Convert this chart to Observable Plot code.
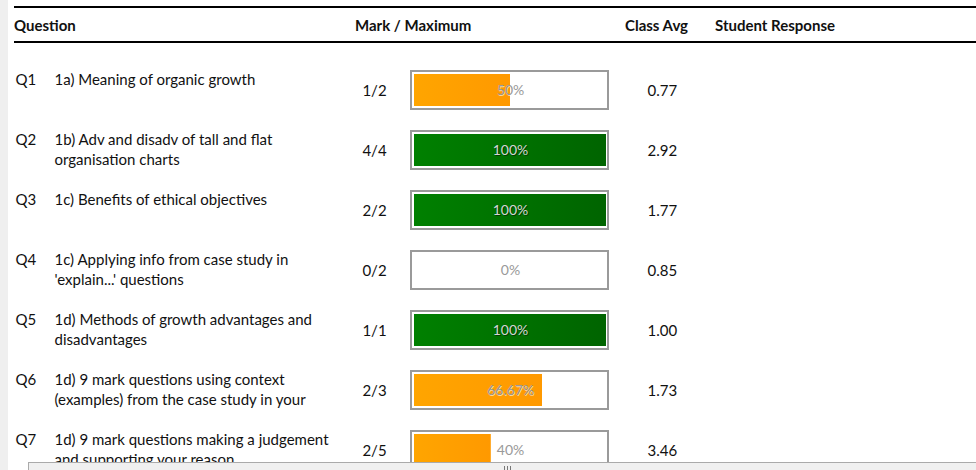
<!DOCTYPE html>
<html><head><meta charset="utf-8">
<script src="https://cdn.jsdelivr.net/npm/d3@7"></script>
<script src="https://cdn.jsdelivr.net/npm/@observablehq/plot@0.6"></script>
<style>
body{margin:0;background:#fff;font-family:Lato,"Open Sans",sans-serif;}
#wrap{position:relative;width:976px;height:470px;overflow:hidden;background:#fff;}
#strip{position:absolute;left:0;top:0;width:8px;height:470px;background:#efefef;z-index:5;}
#head{position:relative;height:43px;}
#head .rules{position:absolute;left:14px;right:0;top:6px;height:33px;border-top:2px solid #000;border-bottom:2px solid #000;}
#head span{position:absolute;top:16px;font-weight:bold;font-size:15px;line-height:18px;color:#111;white-space:nowrap;}
#scroll{position:absolute;left:28px;top:462px;width:948px;height:8px;border-top:1px solid #aaa;border-left:1px solid #aaa;background:#f0f0f0;z-index:4;}
#grip{position:absolute;left:475px;top:3px;width:5px;height:5px;border-left:1px solid #777;border-right:1px solid #777;}
#grip:after{content:"";position:absolute;left:2px;top:0;width:1px;height:5px;background:#777;}
svg.plot{overflow:hidden;}
</style></head>
<body>
<div id="wrap">
  <div id="strip"></div>
  <div id="head"><div class="rules"></div></div>
  <div id="chart"></div>
  <div id="scroll"><div id="grip"></div></div>
</div>
<script>
const ids = ["Q1","Q2","Q3","Q4","Q5","Q6","Q7"];
const questions = [
  "1a) Meaning of organic growth",
  "1b) Adv and disadv of tall and flat\norganisation charts",
  "1c) Benefits of ethical objectives",
  "1c) Applying info from case study in\n'explain...' questions",
  "1d) Methods of growth advantages and\ndisadvantages",
  "1d) 9 mark questions using context\n(examples) from the case study in your",
  "1d) 9 mark questions making a judgement\nand supporting your reason"
];
const marksGot = [1,4,2,0,1,2,2];
const maxima = [2,4,2,2,1,3,5];
const classAvg = [0.77,2.92,1.77,0.85,1.00,1.73,3.46];
const headers = ["Question","Mark / Maximum","Class Avg","Student Response"];

// header
const headLeft = [14,355,625,715];
const head = document.getElementById("head");
headers.forEach((h,i)=>{const s=document.createElement("span");s.textContent=h;s.style.left=headLeft[i]+"px";head.appendChild(s);});

const rows = ids.map((id,i)=>({
  id, q: questions[i], mark: marksGot[i], max: maxima[i], avg: classAvg[i],
  pct: marksGot[i]/maxima[i]
}));
const pctLabel = d => (Math.round(d.pct*10000)/100) + "%";
const full = d => d.pct === 1;

const plot = Plot.plot({
  width: 976, height: 420, margin: 0,
  x: {domain:[0,1], range:[414,606], axis:null},
  y: {type:"band", domain:ids, range:[17,437], padding:0, axis:null},
  style: {fontFamily:"Lato, 'Open Sans', sans-serif", color:"#111", background:"white"},
  marks: [
    Plot.barX(rows, {x1: () => 0, x2: () => 1, y:"id", fill:"white", stroke:"#9a9a9a", strokeWidth:2,
      insetTop:11, insetBottom:11, insetLeft:-3, insetRight:-2}),
    Plot.barX(rows.filter(d=>!full(d)), {x:"pct", y:"id", fill:"url(#gOrange)", insetTop:14, insetBottom:14}),
    Plot.barX(rows.filter(full), {x:"pct", y:"id", fill:"url(#gGreen)", insetTop:14, insetBottom:14}),
    Plot.text(rows.filter(full), {x: () => 0.5, y:"id", text:pctLabel, fontSize:14, fill:"#002a00", dx:1, dy:1, fillOpacity:0.7}),
    Plot.text(rows.filter(d=>!full(d) && d.pct>0), {x: () => 0.5, y:"id", text:pctLabel, fontSize:14, fill:"#ffffff", dx:1, dy:1, fillOpacity:0.6}),
    Plot.text(rows, {x: () => 0.5, y:"id", text:pctLabel, fontSize:14, fill: d => full(d) ? "#d4d4d4" : "#999999"}),
    Plot.text(rows, {y:"id", text:"id", frameAnchor:"left", dx:15, dy:-10, textAnchor:"start", fontSize:15, fill:"#111"}),
    Plot.text(rows, {y:"id", text:"q", frameAnchor:"left", dx:54, dy:-19, lineAnchor:"top", lineHeight:1.3, textAnchor:"start", fontSize:15, fill:"#111"}),
    Plot.text(rows, {y:"id", text: d => d.mark + "/" + d.max, frameAnchor:"left", dx:374, dy:1, textAnchor:"middle", fontSize:15, fill:"#111"}),
    Plot.text(rows, {y:"id", text: d => d.avg.toFixed(2), frameAnchor:"left", dx:647, dy:1, textAnchor:"start", fontSize:15, fill:"#111"})
  ]
});

const svg = d3.select(plot);
const defs = svg.insert("defs", ":first-child");
const og = defs.append("linearGradient").attr("id","gOrange");
og.append("stop").attr("offset","0%").attr("stop-color","#ffa500");
og.append("stop").attr("offset","100%").attr("stop-color","#ff9900");
const gg = defs.append("linearGradient").attr("id","gGreen");
gg.append("stop").attr("offset","0%").attr("stop-color","#008000");
gg.append("stop").attr("offset","100%").attr("stop-color","#006400");
document.getElementById("chart").appendChild(plot);
</script>
</body></html>
